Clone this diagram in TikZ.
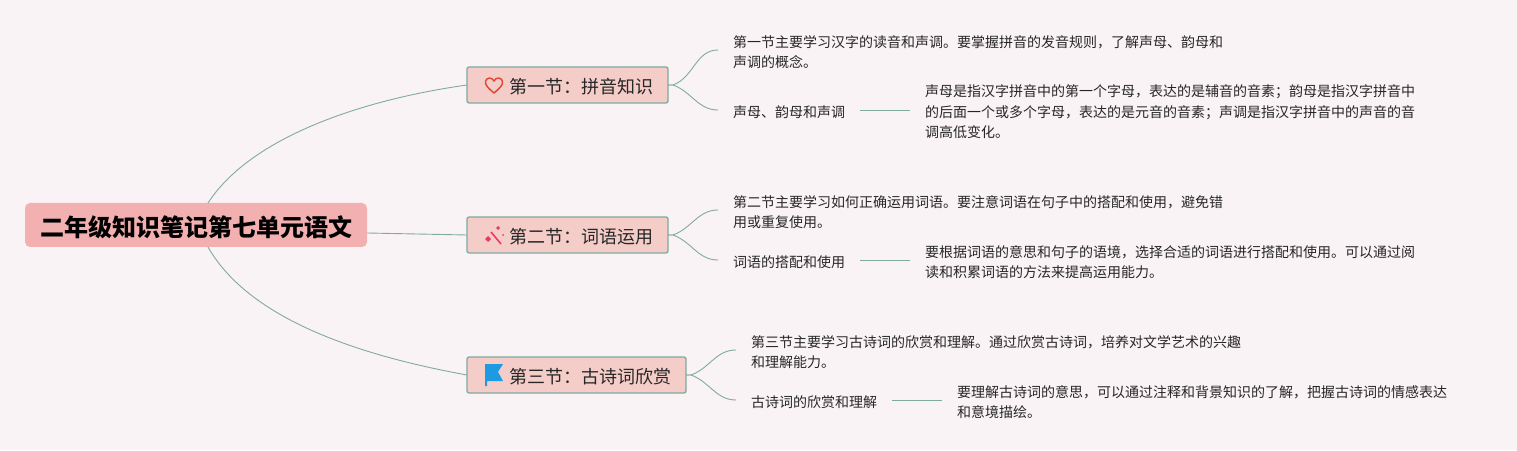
\documentclass[tikz,border=0pt]{standalone}
\usepackage{xcolor}
\usepackage{fontspec}
\setmainfont{Noto Sans CJK SC}
\usetikzlibrary{positioning, calc}
\definecolor{paper}{HTML}{FAF3F6}
\definecolor{rootfill}{HTML}{F3B0B0}
\definecolor{secfill}{HTML}{F4CDC8}
\definecolor{branch}{HTML}{7FAAA0}
\definecolor{heartred}{HTML}{E0483A}
\definecolor{wandred}{HTML}{EA3A62}
\definecolor{flagblue}{HTML}{1E9BE0}
\tikzset{lowtext/.style={execute at begin node={\rule{0pt}{#1}}}}
\tikzstyle{line} = [draw=branch, line width=0.9pt]
\tikzstyle{roottopic} = [rectangle, rounded corners=5pt, fill=rootfill, minimum width=342pt, minimum height=44pt, outer sep=0pt, lowtext=1.05em, font=\fontsize{24}{28}\selectfont\bfseries]
\tikzstyle{section} = [rectangle, rounded corners=2pt, draw=branch, line width=1.3pt, fill=secfill, minimum height=36pt, inner xsep=15pt, outer sep=0pt, lowtext=1.05em, text=black!85, font=\fontsize{18}{22}\selectfont]
\tikzstyle{leaf} = [align=left, inner xsep=15pt, inner ysep=0pt, outer sep=0pt, lowtext=1.2em, text=black!85, font=\fontsize{14}{20.5}\selectfont]

\begin{document}
\begin{tikzpicture}[x=1pt, y=1pt, node distance=50pt]
        \fill [paper] (0,0) rectangle (1517,450);
        \useasboundingbox (0,0) rectangle (1517,450);

        \node [roottopic] (root) at (196,225) {二年级知识笔记第七单元语文};

        \node [section, right=100pt of root, yshift=140pt] (sec1) {\hspace*{27pt}第一节：拼音知识};
        \node [section, right=100pt of root, yshift=-10pt] (sec2) {\hspace*{27pt}第二节：词语运用};
        \node [section, right=100pt of root, yshift=-150pt] (sec3) {\hspace*{27pt}第三节：古诗词欣赏};

        % first section
        \node [leaf, right=of sec1, yshift=33pt] (intro1) {第一节主要学习汉字的读音和声调。要掌握拼音的发音规则，了解声母、韵母和\\声调的概念。};
        \node [leaf, right=of sec1, yshift=-25pt] (topic1) {声母、韵母和声调};
        \node [leaf, right=of topic1, yshift=-2pt] (detail1) {声母是指汉字拼音中的第一个字母，表达的是辅音的音素；韵母是指汉字拼音中\\的后面一个或多个字母，表达的是元音的音素；声调是指汉字拼音中的声音的音\\调高低变化。};

        % second section
        \node [leaf, right=of sec2, yshift=23pt] (intro2) {第二节主要学习如何正确运用词语。要注意词语在句子中的搭配和使用，避免错\\用或重复使用。};
        \node [leaf, right=of sec2, yshift=-25pt] (topic2) {词语的搭配和使用};
        \node [leaf, right=of topic2, yshift=-2pt] (detail2) {要根据词语的意思和句子的语境，选择合适的词语进行搭配和使用。可以通过阅\\读和积累词语的方法来提高运用能力。};

        % third section
        \node [leaf, right=of sec3, yshift=23pt] (intro3) {第三节主要学习古诗词的欣赏和理解。通过欣赏古诗词，培养对文学艺术的兴趣\\和理解能力。};
        \node [leaf, right=of sec3, yshift=-25pt] (topic3) {古诗词的欣赏和理解};
        \node [leaf, right=of topic3, yshift=-2pt] (detail3) {要理解古诗词的意思，可以通过注释和背景知识的了解，把握古诗词的情感表达\\和意境描绘。};

        \path [line] ($(root.north)+(12,0)$) .. controls (250,312) and (360,350) .. (sec1.west);
        \path [line] ($(root.east)+(0,-8)$) -- (sec2.west);
        \path [line] ($(root.south)+(12,0)$) .. controls (245,138) and (340,98) .. (sec3.west);

        \foreach \sec/\intro/\topic/\detail in {sec1/intro1/topic1/detail1, sec2/intro2/topic2/detail2, sec3/intro3/topic3/detail3} {
            \draw [line] (\sec.east) -- ++(5,0) to [out=20, in=180] ($(\intro.west)+(0,2)$);
            \draw [line] (\sec.east) -- ++(5,0) to [out=-20, in=180] (\topic.west);
            \path [line] (\topic.east) -- (\topic.east -| \detail.west);
        }

        % icons
        \begin{scope}[shift={(sec1.west)}]
            \draw [heartred, line width=1.5pt, line join=round] (27,-8) .. controls (21,-3) and (18,0) .. (18.5,3.5) .. controls (19,7.5) and (25,8.5) .. (27,4) .. controls (29,8.5) and (35,7.5) .. (35.5,3.5) .. controls (36,0) and (33,-3) .. (27,-8) -- cycle;
        \end{scope}
        \begin{scope}[shift={(sec2.west)}, wandred]
            \draw [line width=1.6pt] (24,3) -- (34,-9);
            \fill (21,-1) -- (24,-4) -- (21,-7) -- (18,-4) -- cycle;
            \fill (31,9) -- (33,7) -- (31,5) -- (29,7) -- cycle;
            \fill (36,1) -- (37,0) -- (36,-1) -- (35,0) -- cycle;
        \end{scope}
        \begin{scope}[shift={(sec3.west)}]
            \fill [flagblue] (18,11) -- (36,11) -- (31,3) -- (36,-6) -- (20,-6) -- (20,-11) -- (18,-11) -- cycle;
        \end{scope}
    \end{tikzpicture}
\end{document}
